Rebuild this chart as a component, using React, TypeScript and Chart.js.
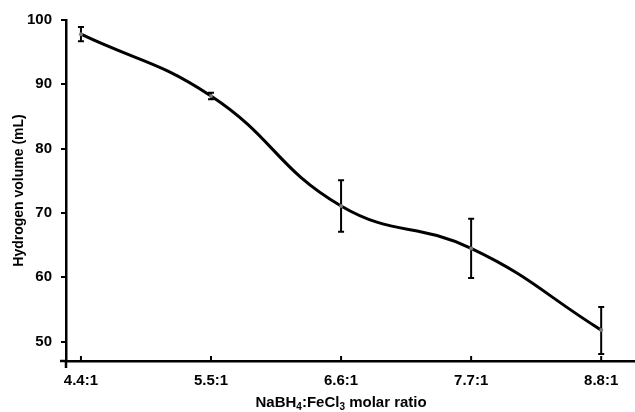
import React, { useEffect, useRef } from "react";
import { Chart, registerables } from "chart.js";

Chart.register(...registerables);

const categories = ["4.4:1", "5.5:1", "6.6:1", "7.7:1", "8.8:1"];
const hydrogenVolume = [97.8, 88.2, 71.1, 64.5, 51.8];
const errorLow = [1.1, 0.5, 4.0, 4.6, 3.7];
const errorHigh = [1.1, 0.5, 4.0, 4.6, 3.6];
const yTicks = [50, 60, 70, 80, 90, 100];
const yTitle = "Hydrogen volume (mL)";
const xTitleParts: [string, boolean][] = [
  ["NaBH", false],
  ["4", true],
  [":FeCl", false],
  ["3", true],
  [" molar ratio", false],
];

const FONT = "'Liberation Sans', Arial, sans-serif";

const extrasPlugin = {
  id: "extras",
  afterDatasetsDraw(chart: any) {
    const ctx = chart.ctx;
    const xs = chart.scales.x;
    const ys = chart.scales.y;
    ctx.save();
    ctx.strokeStyle = "#000";
    ctx.lineWidth = 2;
    hydrogenVolume.forEach((v, i) => {
      const x = xs.getPixelForValue(i);
      const yTop = ys.getPixelForValue(v + errorHigh[i]);
      const yBot = ys.getPixelForValue(v - errorLow[i]);
      ctx.beginPath();
      ctx.moveTo(x, yTop);
      ctx.lineTo(x, yBot);
      ctx.moveTo(x - 3, yTop);
      ctx.lineTo(x + 3, yTop);
      ctx.moveTo(x - 3, yBot);
      ctx.lineTo(x + 3, yBot);
      ctx.stroke();
    });
    ctx.fillStyle = "#7a7a7a";
    hydrogenVolume.forEach((v, i) => {
      ctx.beginPath();
      ctx.arc(xs.getPixelForValue(i), ys.getPixelForValue(v), 2, 0, Math.PI * 2);
      ctx.fill();
    });
    ctx.restore();
  },
  afterDraw(chart: any) {
    const ctx = chart.ctx;
    const xs = chart.scales.x;
    const area = chart.chartArea;
    ctx.save();
    ctx.strokeStyle = "#000";
    ctx.lineWidth = 2.5;
    ctx.beginPath();
    ctx.moveTo(area.left - 6, area.bottom);
    ctx.lineTo(area.left, area.bottom);
    ctx.moveTo(area.left, area.bottom);
    ctx.lineTo(area.left, area.bottom + 7);
    ctx.stroke();
    ctx.lineWidth = 2;
    categories.forEach((_, i) => {
      const x = xs.getPixelForValue(i);
      ctx.beginPath();
      ctx.moveTo(x, area.bottom);
      ctx.lineTo(x, area.bottom - 5);
      ctx.stroke();
    });
    const mainFont = `bold 15px ${FONT}`;
    const subFont = `bold 10px ${FONT}`;
    let total = 0;
    xTitleParts.forEach(([t, sub]) => {
      ctx.font = sub ? subFont : mainFont;
      total += ctx.measureText(t).width;
    });
    const cx = (xs.getPixelForValue(0) + xs.getPixelForValue(categories.length - 1)) / 2;
    let x = cx - total / 2;
    const baseline = 407;
    ctx.fillStyle = "#000";
    ctx.textBaseline = "alphabetic";
    ctx.textAlign = "left";
    xTitleParts.forEach(([t, sub]) => {
      ctx.font = sub ? subFont : mainFont;
      ctx.fillText(t, x, sub ? baseline + 3 : baseline);
      x += ctx.measureText(t).width;
    });
    ctx.restore();
  },
};

export default function App() {
  const ref = useRef<HTMLCanvasElement>(null);
  useEffect(() => {
    document.body.style.margin = "0";
    const chart = new Chart(ref.current!, {
      type: "line",
      data: {
        datasets: [
          {
            data: hydrogenVolume.map((v, i) => ({ x: i, y: v })),
            borderColor: "#000",
            borderWidth: 3,
            pointRadius: 0,
            tension: 0.45,
            fill: false,
          },
        ],
      },
      options: {
        animation: false,
        responsive: false,
        layout: { padding: { top: 20, left: 0, right: 0, bottom: 0 } },
        plugins: { legend: { display: false }, tooltip: { enabled: false } },
        scales: {
          x: {
            type: "linear",
            min: -0.115,
            max: 4.26,
            afterBuildTicks: (s: any) => {
              s.ticks = categories.map((_, i) => ({ value: i }));
            },
            afterFit: (s: any) => {
              s.height = 51;
            },
            grid: { display: false },
            border: { display: true, color: "#000", width: 2.5 },
            ticks: {
              callback: (v: any) => categories[v as number] ?? "",
              font: { family: FONT, size: 15, weight: "bold" },
              color: "#000",
              padding: 3,
              maxRotation: 0,
              autoSkip: false,
            },
          },
          y: {
            min: 47,
            max: 100,
            afterBuildTicks: (s: any) => {
              s.ticks = yTicks.map((v) => ({ value: v }));
            },
            afterFit: (s: any) => {
              s.width = 66;
            },
            grid: {
              display: true,
              drawOnChartArea: false,
              drawTicks: true,
              tickLength: 5,
              color: "#000",
              lineWidth: 2,
            },
            border: { display: true, color: "#000", width: 2.5 },
            ticks: {
              font: { family: FONT, size: 15, weight: "bold" },
              color: "#000",
              padding: 9,
            },
            title: {
              display: true,
              text: yTitle,
              font: { family: FONT, size: 14, weight: "bold" },
              color: "#000",
              padding: { top: 11, bottom: 0 },
            },
          },
        },
      },
      plugins: [extrasPlugin],
    });
    return () => chart.destroy();
  }, []);
  return (
    <div style={{ width: 635, height: 412 }}>
      <canvas ref={ref} width={635} height={412} />
    </div>
  );
}
